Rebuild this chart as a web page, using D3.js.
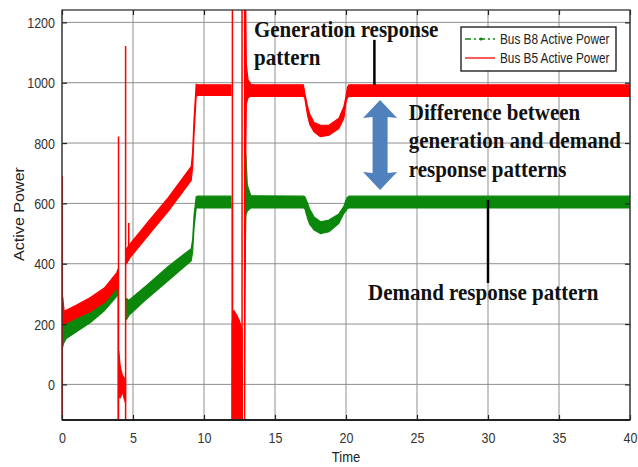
<!DOCTYPE html>
<html>
<head>
<meta charset="utf-8">
<script src="https://cdn.jsdelivr.net/npm/d3@7"></script>
<style>
  html, body { margin: 0; padding: 0; background: #fff; }
  svg { display: block; }
</style>
</head>
<body>
<div id="chart"></div>
<script>
// axis ticks
const xTicks = [0, 5, 10, 15, 20, 25, 30, 35, 40];
const yTicks = [0, 200, 400, 600, 800, 1000, 1200];

// Bus B5 (red) noisy band: time, lower edge, upper edge (null = gap)
const redT  = [0.05, 0.15, 1.0, 2.0, 3.0, 3.85, 3.95, null,
               4.0, 4.1, 4.25, 4.4, 4.47, null,
               4.55, 4.7, 6.0, 7.5, 9.1, 9.2, 9.3, 9.45, 9.55, 11.9, null,
               11.98, 12.1, 12.3, 12.5, 12.68, null,
               12.86, 12.93, 12.98, 13.1, 13.3, 13.5, 17.0, 17.1, 17.3, 17.45, 17.75, 18.2, 18.8, 19.5, 19.85, 20.0, 20.1, 20.2, 40];
const redLo = [205, 200, 220, 242, 272, 318, 330, null,
               -40, -45, -25, -50, -60, null,
               400, 415, 490, 575, 676, 720, 830, 955, 958, 958, null,
               -130, -130, -130, -130, -130, null,
               -130, 700, 930, 950, 955, 955, 955, 948, 890, 862, 837, 821, 826, 848, 882, 935, 950, 955, 955];
const redHi = [290, 242, 262, 288, 320, 370, 382, null,
               110, 60, 30, 20, 10, null,
               450, 460, 535, 620, 722, 770, 880, 995, 993, 993, null,
               200, 245, 230, 210, 180, null,
               1300, 1300, 1060, 1010, 995, 993, 993, 965, 920, 895, 868, 859, 859, 882, 920, 955, 985, 993, 993];

// Bus B8 (green) noisy band
const greenT  = [0.03, 0.1, 0.3, 2.0, 3.0, 3.85, 3.95, null,
                 4.55, 4.7, 6.0, 7.5, 9.1, 9.2, 9.3, 9.45, 9.55, 11.9, null,
                 12.0, 12.3, 12.7, null,
                 12.88, 12.95, 13.05, 13.3, 17.0, 17.1, 17.3, 17.45, 17.75, 18.2, 18.8, 19.5, 19.85, 20.0, 20.1, 20.2, 40];
const greenLo = [120, 135, 152, 205, 245, 292, 300, null,
                 215, 228, 285, 345, 410, 440, 520, 585, 585, 585, null,
                 -130, -130, -130, null,
                 380, 560, 575, 585, 585, 583, 550, 530, 512, 500, 506, 534, 567, 575, 583, 585, 585];
const greenHi = [210, 205, 210, 250, 290, 345, 350, null,
                 285, 278, 330, 392, 450, 480, 560, 622, 624, 624, null,
                 60, 50, 60, null,
                 780, 760, 660, 625, 624, 622, 600, 580, 555, 539, 545, 565, 590, 611, 620, 624, 624];

// transient spikes (vertical excursions)
const redSpikeT  = [0.02, 3.98, 4.48, 4.7, 12.0, 12.68];
const redSpikeLo = [-130, -130, -130, 410, -130, -130];
const redSpikeHi = [690, 822, 1122, 535, 1300, 1300];
const greenSpikeT  = [3.96, 12.0];
const greenSpikeLo = [-130, -130];
const greenSpikeHi = [345, 600];

const legendLabels = ['Bus B8 Active Power', 'Bus B5 Active Power'];

const W = 638, H = 467;
const plot = { left: 62, right: 630, top: 10, bottom: 420 };

const x = d3.scaleLinear().domain([0, 40]).range([plot.left, plot.right]);
const y = d3.scaleLinear().domain([-118, 1241]).range([plot.bottom, plot.top]);

const svg = d3.select('#chart').append('svg')
  .attr('width', W)
  .attr('height', H)
  .style('font-family', '"Liberation Sans", Arial, sans-serif');

svg.append('defs').append('clipPath').attr('id', 'clip')
  .append('rect')
  .attr('x', plot.left).attr('y', plot.top)
  .attr('width', plot.right - plot.left).attr('height', plot.bottom - plot.top);

// grid
const grid = svg.append('g').attr('stroke', '#8f8f8f').attr('stroke-width', 1);
grid.selectAll('.gx').data(xTicks).enter().append('line')
  .attr('x1', d => x(d)).attr('x2', d => x(d))
  .attr('y1', plot.top).attr('y2', plot.bottom);
grid.selectAll('.gy').data(yTicks).enter().append('line')
  .attr('x1', plot.left).attr('x2', plot.right)
  .attr('y1', d => y(d)).attr('y2', d => y(d));

const rows = (T, Lo, Hi) => T.map((t, i) => ({ t: t, lo: Lo[i], hi: Hi[i] }));

const band = d3.area()
  .defined(d => d.t !== null)
  .x(d => x(d.t))
  .y0(d => y(d.lo))
  .y1(d => y(d.hi));

const marks = svg.append('g').attr('clip-path', 'url(#clip)');

function drawSeries(T, Lo, Hi, sT, sLo, sHi, color) {
  marks.append('path')
    .datum(rows(T, Lo, Hi))
    .attr('fill', color)
    .attr('stroke', color)
    .attr('stroke-width', 1.2)
    .attr('stroke-linejoin', 'round')
    .attr('d', band);
  marks.selectAll(null)
    .data(rows(sT, sLo, sHi))
    .enter().append('line')
    .attr('x1', d => x(d.t)).attr('x2', d => x(d.t))
    .attr('y1', d => y(d.lo)).attr('y2', d => y(d.hi))
    .attr('stroke', color)
    .attr('stroke-width', 1.5);
}

drawSeries(greenT, greenLo, greenHi, greenSpikeT, greenSpikeLo, greenSpikeHi, '#0b870b');
drawSeries(redT, redLo, redHi, redSpikeT, redSpikeLo, redSpikeHi, '#ff0000');

// axes with inward ticks
const axisColor = '#222';
const gx = svg.append('g')
  .attr('transform', `translate(0,${plot.bottom})`)
  .call(d3.axisBottom(x).tickValues(xTicks).tickSize(-5).tickSizeOuter(0).tickFormat(d3.format('d')));
const gy = svg.append('g')
  .attr('transform', `translate(${plot.left},0)`)
  .call(d3.axisLeft(y).tickValues(yTicks).tickSize(-5).tickSizeOuter(0).tickPadding(7).tickFormat(d3.format('d')));
svg.append('g')
  .attr('transform', `translate(0,${plot.top})`)
  .call(d3.axisTop(x).tickValues(xTicks).tickSize(-5).tickSizeOuter(0).tickFormat(''));
svg.append('g')
  .attr('transform', `translate(${plot.right},0)`)
  .call(d3.axisRight(y).tickValues(yTicks).tickSize(-5).tickSizeOuter(0).tickFormat(''));

svg.selectAll('.domain').remove();
svg.selectAll('.tick line').attr('stroke', axisColor).attr('stroke-width', 1.2);

gx.selectAll('text')
  .attr('y', 0).attr('dy', '0.35em')
  .attr('transform', 'translate(0,18) scale(1,1.2)')
  .attr('font-size', 12.5).attr('fill', '#333')
  .attr('font-family', '"Liberation Sans", Arial, sans-serif');
gy.selectAll('text')
  .attr('y', 0).attr('dy', '0.35em')
  .attr('transform', 'scale(1,1.2)')
  .attr('font-size', 12.5).attr('fill', '#333')
  .attr('font-family', '"Liberation Sans", Arial, sans-serif');

// frame
svg.append('rect')
  .attr('x', plot.left).attr('y', plot.top)
  .attr('width', plot.right - plot.left).attr('height', plot.bottom - plot.top)
  .attr('fill', 'none').attr('stroke', '#333').attr('stroke-width', 1.3);
svg.append('line')
  .attr('x1', plot.left).attr('x2', plot.right)
  .attr('y1', plot.bottom).attr('y2', plot.bottom)
  .attr('stroke', '#222').attr('stroke-width', 2);

// axis titles
svg.append('text')
  .attr('transform', `translate(346,457) scale(1,1.12)`)
  .attr('text-anchor', 'middle').attr('dy', '0.35em')
  .attr('font-size', 13).attr('fill', '#222')
  .text('Time');
svg.append('text')
  .attr('transform', `translate(19,214) rotate(-90) scale(1.15,1)`)
  .attr('text-anchor', 'middle').attr('dy', '0.35em')
  .attr('font-size', 14).attr('fill', '#222')
  .text('Active Power');

// annotations (placed in data coordinates)
const serif = '"Liberation Serif", "Times New Roman", serif';
const annText = [
  { t: 13.52, v: 1151, s: 'Generation response' },
  { t: 13.52, v: 1059, s: 'pattern' },
  { t: 24.42, v: 876, s: 'Difference between' },
  { t: 24.42, v: 782, s: 'generation and demand' },
  { t: 24.42, v: 688, s: 'response patterns' },
  { t: 21.55, v: 280, s: 'Demand response pattern' }
];
const annLines = [
  { t: 22.0, v0: 1142, v1: 992 },
  { t: 30.0, v0: 611, v1: 336 }
];
const arrow = { t: 22.4, v0: 943, v1: 644 };

svg.append('g').selectAll('line').data(annLines).enter().append('line')
  .attr('x1', d => x(d.t)).attr('x2', d => x(d.t))
  .attr('y1', d => y(d.v0)).attr('y2', d => y(d.v1))
  .attr('stroke', '#000').attr('stroke-width', 2.5);

{
  const cx = x(arrow.t), yt = y(arrow.v0), yb = y(arrow.v1);
  const hw = 17, sw = 7.5, hl = 18;
  const pts = [
    [cx, yt], [cx + hw, yt + hl], [cx + sw, yt + hl - 1], [cx + sw, yb - hl + 1],
    [cx + hw, yb - hl], [cx, yb], [cx - hw, yb - hl], [cx - sw, yb - hl + 1],
    [cx - sw, yt + hl - 1], [cx - hw, yt + hl]
  ];
  svg.append('path')
    .attr('d', 'M' + pts.map(p => p.join(',')).join('L') + 'Z')
    .attr('fill', '#4f81bd');
}

svg.append('g').selectAll('text').data(annText).enter().append('text')
  .attr('transform', d => `translate(${x(d.t)},${y(d.v)}) scale(1,1.12)`)
  .attr('font-family', serif)
  .attr('font-weight', 'bold')
  .attr('font-size', 21)
  .attr('fill', '#111')
  .text(d => d.s);

// legend
const lg = svg.append('g').attr('transform', 'translate(461,27)');
lg.append('rect')
  .attr('width', 155).attr('height', 44)
  .attr('fill', '#fff').attr('stroke', '#111').attr('stroke-width', 1.3);
const lgColors = ['#0b870b', '#ff0000'];
legendLabels.forEach((s, i) => {
  const ly = 12 + i * 19;
  lg.append('line')
    .attr('x1', 4).attr('x2', 34).attr('y1', ly).attr('y2', ly)
    .attr('stroke', lgColors[i]).attr('stroke-width', 1.3)
    .attr('stroke-dasharray', i === 0 ? '6,3,2,3' : null);
  if (i === 0) {
    lg.append('circle').attr('cx', 20).attr('cy', ly).attr('r', 1.6).attr('fill', lgColors[i]);
  }
  lg.append('text')
    .attr('transform', `translate(39,${ly}) scale(1,1.2)`)
    .attr('dy', '0.35em')
    .attr('font-size', 11.8).attr('fill', '#222')
    .text(s);
});
</script>
</body>
</html>
